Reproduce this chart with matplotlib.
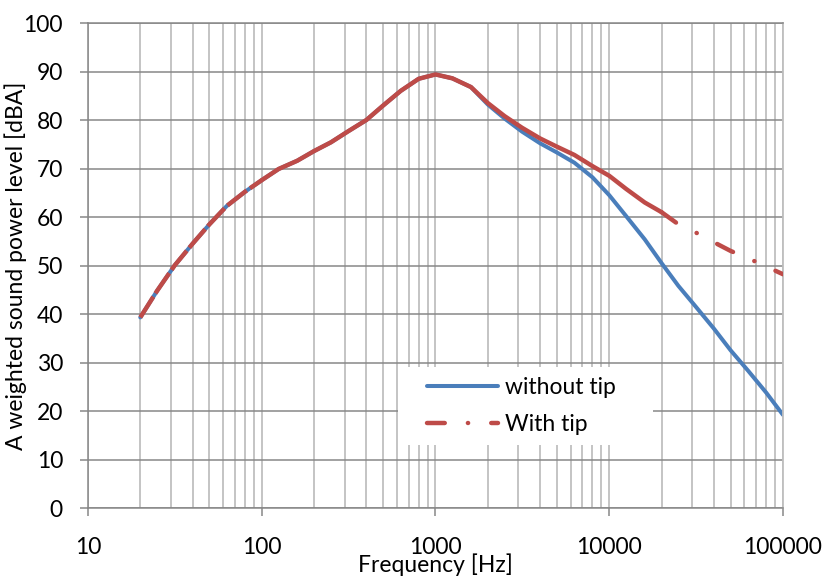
#Sound power spectrum with and without tip, A-weighted, 1/3 octave bands
import matplotlib.pyplot as plt
import matplotlib.patches as patches
import matplotlib.ticker as ticker
import numpy as np

#DATA
freq = [20, 25, 31.5, 40, 50, 63, 80, 100, 125, 160, 200, 250, 315, 400, 500, 630, 800,
        1000, 1250, 1600, 2000, 2500, 3150, 4000, 5000, 6300, 8000, 10000, 12500, 16000,
        20000, 25000, 31500, 40000, 50000, 63000, 80000, 100000]
without_tip = [39.3, 44.8, 50.0, 54.5, 58.5, 62.3, 65.2, 67.6, 69.9, 71.6, 73.6, 75.4, 77.7,
               80.0, 83.0, 86.0, 88.5, 89.4, 88.6, 86.8, 83.2, 80.3, 77.6, 75.2, 73.3, 71.2,
               68.2, 64.5, 60.2, 55.4, 50.5, 45.8, 41.5, 37.0, 32.5, 28.3, 23.8, 19.2]
with_tip = [39.3, 44.8, 50.0, 54.5, 58.5, 62.3, 65.2, 67.6, 69.9, 71.6, 73.6, 75.4, 77.7,
            80.0, 83.0, 86.0, 88.5, 89.4, 88.6, 86.8, 83.5, 80.8, 78.4, 76.2, 74.5, 72.8,
            70.5, 68.5, 65.8, 63.0, 61.0, 58.5, 56.8, 54.8, 53.0, 51.5, 49.8, 48.2]
series_names = ['without tip', 'With tip']
xticks = [10, 100, 1000, 10000, 100000]
yticks = list(range(0, 101, 10))

#STYLE
blue = '#4A7EBB'
red = '#BE4B48'
fs = 16.5
plt.rcParams['font.family'] = ['Lato', 'DejaVu Sans']
plt.rcParams['font.size'] = fs

freq = np.array(freq)
with_tip = np.array(with_tip)

fig = plt.figure(figsize=(8.27, 5.8), dpi=100)
ax = fig.add_axes([0.1064, 0.1241, 0.8404, 0.8362])

ax.plot(freq, without_tip, color=blue, lw=2.9, solid_capstyle='round', zorder=2,
        label=series_names[0])

#red curve: short breaks on the steep part, solid in the middle, dash-dot at the top end
head = freq <= 100
mid = (freq >= 100) & (freq <= 20000)
tail = freq >= 20000
ax.plot(freq[head], with_tip[head], color=red, lw=3.2, dashes=(5.5, 0.9),
        dash_capstyle='butt', zorder=3)
ax.plot(freq[mid], with_tip[mid], color=red, lw=3.2, solid_capstyle='round', zorder=3)
red_line, = ax.plot(freq[tail], with_tip[tail], color=red, lw=3.2,
                    dashes=(4.0, 5.2, 0.05, 5.2), dash_capstyle='round', zorder=3)

ax.set_xscale('log')
ax.set_xlim(10, 100000)
ax.set_ylim(0, 100)
ax.set_xticks(xticks)
ax.xaxis.set_major_formatter(ticker.FuncFormatter(lambda v, p: '{:d}'.format(int(v))))
ax.xaxis.set_minor_locator(ticker.LogLocator(base=10, subs=np.arange(2, 10)))
ax.xaxis.set_minor_formatter(ticker.NullFormatter())
ax.set_yticks(yticks)

ax.set_axisbelow(True)
ax.grid(which='both', axis='x', color='#BFBFBF', lw=1.3)
ax.grid(which='major', axis='y', color='#878787', lw=1.1)

ax.tick_params(axis='y', which='major', direction='out', length=6, width=1.1,
               color='#878787', pad=12, labelsize=fs)
ax.tick_params(axis='x', which='major', direction='out', length=6, width=1.1,
               color='#878787', pad=15, labelsize=fs)
ax.tick_params(axis='x', which='minor', length=0)

for side in ['left', 'bottom', 'top']:
    ax.spines[side].set_color('#878787')
    ax.spines[side].set_linewidth(1.1)
ax.spines['right'].set_color('#BFBFBF')
ax.spines['right'].set_linewidth(1.3)

ax.set_ylabel('A weighted sound power level [dBA]', fontsize=fs)
ax.yaxis.set_label_coords(-0.088, 0.5)
ax.set_xlabel('Frequency [Hz]', fontsize=fs)
ax.xaxis.set_label_coords(0.5, -0.094)

#white box behind the legend
ax.add_patch(patches.Rectangle((0.446, 0.13), 0.367, 0.161, transform=ax.transAxes,
                               facecolor='white', edgecolor='none', zorder=1))
red_line.set_label(series_names[1])
ax.legend(loc='center left', bbox_to_anchor=(0.488, 0.211), frameon=False,
          borderpad=0, borderaxespad=0, handlelength=3.1, handletextpad=0.3,
          labelspacing=0.7, fontsize=fs)

plt.savefig('out.png', dpi=100)
